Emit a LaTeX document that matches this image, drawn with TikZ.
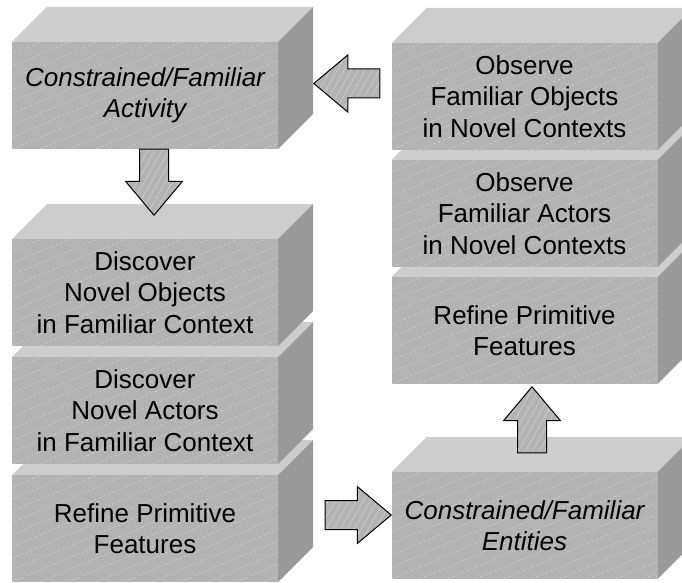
\documentclass[tikz,border=0pt]{standalone}
\usepackage{fontspec}
\setmainfont{Liberation Sans}
\usetikzlibrary{shapes,arrows,positioning,backgrounds}
\definecolor{frontgray}{RGB}{179,179,179}
\definecolor{topgray}{RGB}{205,205,205}
\definecolor{sidegray}{RGB}{153,153,153}
\begin{document}
\begin{tikzpicture}[x=1pt,y=1pt]

  \tikzset{hatch/.style={path picture={
        \foreach \k in {-12,...,10}
          \draw[white, opacity=.5, line width=.4pt, dash pattern=on 3pt off 2pt]
            ([xshift=\k*28pt]path picture bounding box.south west) -- ++(320,135);}}, }
  \tikzset{arrow hatch/.style={path picture={
        \foreach \k in {-14,...,12}
          \draw[white, opacity=.5, line width=.4pt]
            ([xshift=\k*7pt]path picture bounding box.south west) -- ++(45,80);}}, }
  \tikzset{main box/.style={rectangle, fill=frontgray, text centered, align=center,
        minimum width=266pt, minimum height=107pt, inner sep=0pt, outer sep=0pt,
        font=\fontsize{26}{31.5}\selectfont, hatch}, }
  \tikzset{italic box/.style={main box, font=\fontsize{26}{31.5}\selectfont\itshape}, }
  \tikzset{top face/.style={fill=topgray}, side face/.style={fill=sidegray}, }
  \tikzset{fat arrow/.style={single arrow, draw=black, line width=1pt, fill=frontgray,
        minimum height=66pt, minimum width=56pt, single arrow head extend=14pt,
        single arrow tip angle=80, inner sep=14pt, anchor=tip, arrow hatch}, }

\useasboundingbox (0,0) rectangle (682,582);
\clip (0,0) rectangle (682,582);

% left column, bottom up
\node[main box] (l3) at (145,53.5) {Refine Primitive\\Features};
\node[main box] (l2) [above=11pt of l3] {Discover\\Novel Actors\\in Familiar Context};
\node[main box] (l1) [above=11pt of l2] {Discover\\Novel Objects\\in Familiar Context};
\node[italic box] (a) [above=90pt of l1] {Constrained/Familiar\\Activity};

% right column, bottom up
\node[italic box] (r4) at (524.5,56.5) {Constrained/Familiar\\Entities};
\node[main box] (r3) [above=88pt of r4] {Refine Primitive\\Features};
\node[main box] (r2) [above=10pt of r3] {Observe\\Familiar Actors\\in Novel Contexts};
\node[main box] (r1) [above=10pt of r2] {Observe\\Familiar Objects\\in Novel Contexts};

\begin{scope}[on background layer]
\foreach \n in {l3,l2,l1,a,r4,r3,r2,r1} {
  \fill[top face] (\n.north west) -- ++(35,35) -- ++(266,0) -- (\n.north east) -- cycle;
  \fill[side face] (\n.north east) -- ++(35,35) -- ++(0,-107) -- (\n.south east) -- cycle;
}
\end{scope}

% block arrows, placed by their tips
\node[fat arrow, shape border rotate=180] (ar1) at (313,498.5) {};
\node[fat arrow, shape border rotate=270] (ar2) at (154,366) {};
\node[fat arrow] (ar3) at (392,67) {};
\node[fat arrow, shape border rotate=90] (ar4) at (532,196) {};
%%
\end{tikzpicture}
\end{document}
